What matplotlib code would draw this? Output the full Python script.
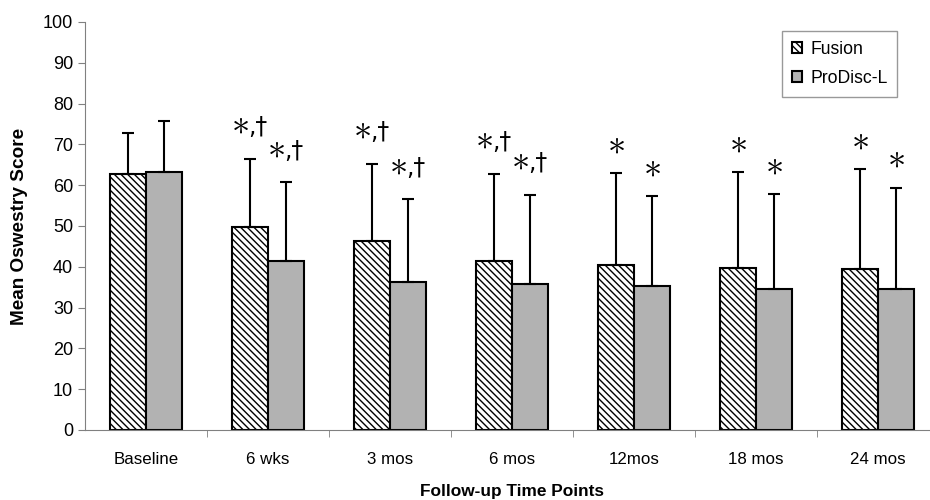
import numpy as np
import matplotlib.pyplot as plt

plt.rcParams['font.family'] = ['Liberation Sans', 'DejaVu Sans']
plt.rcParams['hatch.linewidth'] = 1.0

# follow-up time points
timepoints = ["Baseline", "6 wks", "3 mos", "6 mos", "12mos", "18 mos", "24 mos"]

fusion = [62.8, 49.7, 46.3, 41.3, 40.5, 39.7, 39.5]
fusion_sd = [10.0, 16.8, 19.0, 21.5, 22.4, 23.6, 24.5]
prodisc = [63.2, 41.3, 36.2, 35.8, 35.4, 34.6, 34.5]
prodisc_sd = [12.6, 19.4, 20.3, 21.9, 21.9, 23.2, 24.9]

# significance marks: 0 none, 1 asterisk, 2 asterisk + dagger
fusion_marks = [0, 2, 2, 2, 1, 1, 1]
prodisc_marks = [0, 2, 2, 2, 1, 1, 1]

xticks = np.arange(len(timepoints))
w = 0.295

fig = plt.figure(figsize=(9.3, 5), dpi=100)
ax = fig.add_axes([0.0914, 0.14, 0.918, 0.816])

zeros = np.zeros(len(xticks))
ax.bar(xticks - w / 2, fusion, width=w, color="white", edgecolor="black",
       hatch="\\\\\\\\\\", linewidth=1.5, label="Fusion", zorder=2)
ax.bar(xticks + w / 2, prodisc, width=w, color="#b2b2b2", edgecolor="black",
       linewidth=1.5, label="ProDisc-L", zorder=2)
ax.errorbar(xticks - w / 2, fusion, yerr=[zeros, fusion_sd], fmt="none",
            ecolor="black", elinewidth=1.5, capsize=4.5, capthick=1.5, zorder=3)
ax.errorbar(xticks + w / 2, prodisc, yerr=[zeros, prodisc_sd], fmt="none",
            ecolor="black", elinewidth=1.5, capsize=4.5, capthick=1.5, zorder=3)


def mark(x, top, kind):
    if kind == 0:
        return
    if kind == 2:
        ax.annotate(r"$\ast$", (x, top), xytext=(-7, 25), textcoords="offset points",
                    ha="center", va="center", fontsize=26, math_fontfamily="cm")
        ax.annotate(",\u2020", (x, top), xytext=(-1, 17.5), textcoords="offset points",
                    ha="left", va="baseline", fontsize=17, family=["DejaVu Sans"])
    else:
        ax.annotate(r"$\ast$", (x, top), xytext=(0, 21), textcoords="offset points",
                    ha="center", va="center", fontsize=26, math_fontfamily="cm")


for x, v, s, m in zip(xticks, fusion, fusion_sd, fusion_marks):
    mark(x - w / 2, v + s, m)
for x, v, s, m in zip(xticks, prodisc, prodisc_sd, prodisc_marks):
    mark(x + w / 2, v + s, m)

ax.set_xlim(-0.5, len(timepoints) - 0.5)
ax.set_ylim(0, 100)
ax.set_yticks(np.arange(0, 101, 10))
ax.set_xticks(xticks + 0.5, minor=True)
ax.set_xticks(xticks)
ax.set_xticklabels(timepoints, fontsize=12.2)
ax.tick_params(axis="x", which="major", length=0, pad=16)
ax.tick_params(axis="x", which="minor", length=5, color="#808080")
ax.tick_params(axis="y", labelsize=13, length=5, color="#808080")

for sp in ["top", "right"]:
    ax.spines[sp].set_visible(False)
ax.spines["left"].set_color("#808080")
ax.spines["bottom"].set_color("#808080")

ax.set_ylabel("Mean Oswestry Score", fontsize=13.7, fontweight="bold", labelpad=11)
ax.set_xlabel("Follow-up Time Points", fontsize=12.4, fontweight="bold", labelpad=12)

leg = ax.legend(loc="upper right", bbox_to_anchor=(0.962, 1.0), fontsize=12.7,
                handlelength=0.55, handleheight=0.55, handletextpad=0.5,
                fancybox=False, edgecolor="#808080", borderpad=0.55, labelspacing=0.7)
leg.get_frame().set_linewidth(1.0)

plt.savefig("out.png", dpi=100)
